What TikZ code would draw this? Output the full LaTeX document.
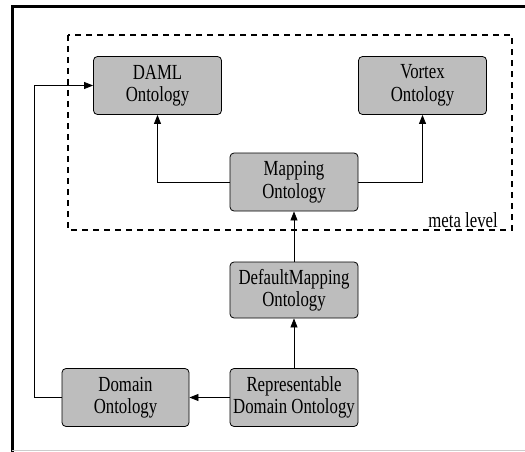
\documentclass[tikz,border=0pt]{standalone}
\usepackage{fontspec}
\setmainfont[FakeStretch=0.78]{Liberation Serif}
\usetikzlibrary{arrows.meta}
\begin{document}
\begin{tikzpicture}[x=1pt,y=-1pt,
  onto/.style={draw, line width=0.8pt, fill=black!26, rounded corners=4pt,
    minimum width=128pt, minimum height=58pt, inner sep=0pt, align=center,
    font=\fontsize{21.5}{22.5}\selectfont},
  link/.style={line width=0.8pt, -{Triangle[length=9pt,width=7pt]}}]
\useasboundingbox (0,0) rectangle (525,452);
% frame
\draw[line width=3pt] (12,452) -- (12,6.5) -- (525,6.5);
\draw[black!20, line width=1pt] (12,450.5) -- (525,450.5);
% meta level box
\draw[dashed, dash pattern=on 6pt off 5pt, line width=1.4pt] (68,35) rectangle (512,230);
\node[anchor=east, inner sep=0pt, font=\fontsize{21.5}{22.5}\selectfont] (meta) at (498,220) {meta level};
\node[onto] (DAML) at (157.5,85.5) {DAML\\Ontology};
\node[onto] (Vortex) at (422.5,85.5) {Vortex\\Ontology};
\node[onto] (Map) at (294,182) {Mapping\\Ontology};
\node[onto, minimum height=56pt] (DefMap) at (294,290) {DefaultMapping\\Ontology};
\node[onto] (RepDom) at (294,397.5) {Representable\\Domain Ontology};
\node[onto, minimum width=127pt] (Dom) at (125.5,397.5) {Domain\\Ontology};
\draw[link] (Map.west) -| (DAML.south);
\draw[link] (Map.east) -| (Vortex.south);
\draw[link] (DefMap) -- (Map);
\draw[link] (RepDom) -- (DefMap);
\draw[link] (RepDom) -- (Dom);
\draw[link] (Dom.west) -- ++(-27,0) |- (DAML.west);
\end{tikzpicture}
\end{document}
